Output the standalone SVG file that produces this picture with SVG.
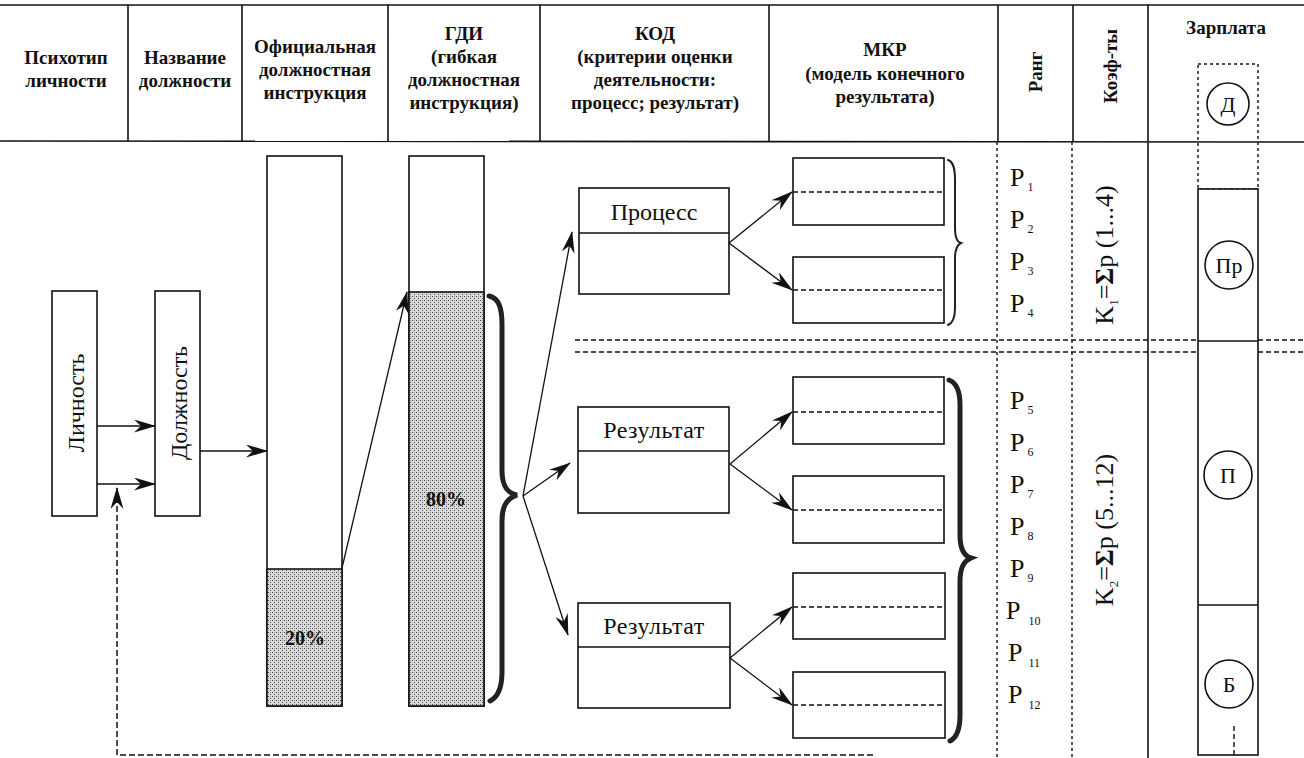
<svg xmlns="http://www.w3.org/2000/svg" width="1304" height="758" viewBox="0 0 1304 758">
<defs>
<style>
.hd{font-family:"Liberation Serif","Times New Roman",serif;font-weight:bold;font-size:19px;text-anchor:middle;fill:#111}
.lb{font-family:"Liberation Serif","Times New Roman",serif;font-size:24px;text-anchor:middle;fill:#111}
.pc{font-family:"Liberation Serif","Times New Roman",serif;font-weight:bold;font-size:20px;text-anchor:middle;fill:#111}
.rk{font-family:"Liberation Serif","Times New Roman",serif;font-size:26px;fill:#111}
.ci{font-family:"Liberation Serif","Times New Roman",serif;font-size:22px;text-anchor:middle;fill:#111}
.box{fill:#fff;stroke:#111;stroke-width:1.6}
.ln{stroke:#111;stroke-width:1.6;fill:none}
.dash{stroke:#111;stroke-width:1.4;stroke-dasharray:5 3;fill:none}
.dot{stroke:#111;stroke-width:1.4;stroke-dasharray:3 3;fill:none}
.arr{stroke:#111;stroke-width:1.3;fill:none;marker-end:url(#ah)}
.brace{fill:none;stroke:#222;stroke-linecap:round}
</style>
<marker id="ah" markerUnits="userSpaceOnUse" markerWidth="24" markerHeight="14" refX="21" refY="6.5" orient="auto">
<path d="M0,0 L22,6.5 L0,13 L7,6.5 z" fill="#111"/>
</marker>
<pattern id="dots" width="4" height="4" patternUnits="userSpaceOnUse">
<rect width="4" height="4" fill="#dadada"/>
<rect width="1" height="1" fill="#444"/>
<rect x="2" y="2" width="1" height="1" fill="#555"/>
<rect x="2" y="0" width="1" height="1" fill="#999"/>
</pattern>
</defs>
<rect width="1304" height="758" fill="#fff"/>

<g id="header">
<line class="ln" x1="0" y1="5" x2="1304" y2="5"/>
<line class="ln" x1="0" y1="141" x2="1304" y2="142"/>
<line class="ln" x1="128" y1="5" x2="128" y2="141"/>
<line class="ln" x1="242" y1="5" x2="242" y2="141"/>
<line class="ln" x1="388" y1="5" x2="388" y2="141"/>
<line class="ln" x1="540" y1="5" x2="540" y2="141"/>
<line class="ln" x1="769" y1="5" x2="769" y2="141"/>
<line class="ln" x1="998" y1="5" x2="998" y2="141"/>
<line class="ln" x1="1073" y1="5" x2="1073" y2="141"/>
<line class="ln" x1="1148" y1="5" x2="1148" y2="141"/>
<text class="hd" x="66" y="64">Психотип</text>
<text class="hd" x="66" y="87">личности</text>
<text class="hd" x="185" y="64">Название</text>
<text class="hd" x="185" y="87">должности</text>
<text class="hd" x="315" y="53">Официальная</text>
<text class="hd" x="315" y="76">должностная</text>
<text class="hd" x="315" y="99">инструкция</text>
<text class="hd" x="464" y="40">ГДИ</text>
<text class="hd" x="464" y="63">(гибкая</text>
<text class="hd" x="464" y="86">должностная</text>
<text class="hd" x="464" y="109">инструкция)</text>
<text class="hd" x="655" y="40">КОД</text>
<text class="hd" x="655" y="63">(критерии оценки</text>
<text class="hd" x="655" y="86">деятельности:</text>
<text class="hd" x="655" y="109">процесс; результат)</text>
<text class="hd" x="885" y="56">МКР</text>
<text class="hd" x="885" y="80">(модель конечного</text>
<text class="hd" x="885" y="103">результата)</text>
<text class="hd" transform="rotate(-90 1035 72)" x="1035" y="79">Ранг</text>
<text class="hd" transform="rotate(-90 1110 66)" x="1110" y="73">Коэф-ты</text>
<text class="hd" x="1226" y="34">Зарплата</text>
</g>

<g id="grid">
<line class="dot" x1="997" y1="142" x2="997" y2="758"/>
<line class="dot" x1="1072" y1="142" x2="1072" y2="758"/>
<line class="ln" x1="1148" y1="142" x2="1148" y2="758"/>
<line class="dash" x1="575" y1="340" x2="1198" y2="340"/>
<line class="dash" x1="1258" y1="340" x2="1304" y2="340"/>
<line class="dash" x1="575" y1="352" x2="1198" y2="352"/>
<line class="dash" x1="1258" y1="352" x2="1304" y2="352"/>
</g>

<g id="lichnost">
<rect class="box" x="52" y="291" width="45" height="225"/>
<text class="lb" font-size="25" transform="rotate(-90 75 403)" x="75" y="412">Личность</text>
</g>
<g id="dolzhnost">
<rect class="box" x="155" y="291" width="45" height="225"/>
<text class="lb" font-size="25" transform="rotate(-90 178 403)" x="178" y="412">Должность</text>
</g>

<g id="ofic">
<rect class="box" x="267" y="156" width="75" height="550"/>
<rect x="267" y="569" width="75" height="137" fill="url(#dots)" stroke="#111" stroke-width="1.6"/>
<text class="pc" x="305" y="645">20%</text>
</g>

<g id="gdi">
<rect class="box" x="409" y="156" width="75" height="550"/>
<rect x="409" y="292" width="75" height="414" fill="url(#dots)" stroke="#111" stroke-width="1.6"/>
<text class="pc" x="446" y="506">80%</text>
</g>

<g id="process">
<rect class="box" x="579" y="188" width="150" height="106"/>
<line class="ln" x1="579" y1="233" x2="729" y2="233"/>
<text class="lb" font-size="25" x="654" y="220">Процесс</text>
</g>
<g id="rez1">
<rect class="box" x="578" y="407" width="151" height="106"/>
<line class="ln" x1="578" y1="451" x2="729" y2="451"/>
<text class="lb" x="654" y="438" letter-spacing="0.5">Результат</text>
</g>
<g id="rez2">
<rect class="box" x="578" y="603" width="152" height="105"/>
<line class="ln" x1="578" y1="647" x2="730" y2="647"/>
<text class="lb" x="654" y="634" letter-spacing="0.5">Результат</text>
</g>

<g id="mkr">
<rect class="box" x="793" y="158" width="151" height="67"/>
<line class="dash" x1="793" y1="192" x2="944" y2="192"/>
<rect class="box" x="793" y="257" width="151" height="66"/>
<line class="dash" x1="793" y1="290" x2="944" y2="290"/>
<rect class="box" x="793" y="377" width="151" height="67"/>
<line class="dash" x1="793" y1="412" x2="944" y2="412"/>
<rect class="box" x="793" y="476" width="151" height="67"/>
<line class="dash" x1="793" y1="510" x2="944" y2="510"/>
<rect class="box" x="793" y="573" width="152" height="66"/>
<line class="dash" x1="793" y1="607" x2="945" y2="607"/>
<rect class="box" x="793" y="672" width="152" height="66"/>
<line class="dash" x1="793" y1="705" x2="945" y2="705"/>
</g>

<g id="braces">
<path class="brace" stroke-width="5" d="M489,296 C499,298 502,308 502,325 L502,470 C502,486 507,493 517,495 C507,498 502,506 502,520 L502,672 C502,688 498,697 490,701"/>
<path class="brace" stroke-width="2" d="M948,160 C954,162 955,170 955,180 L955,228 C955,238 957,242 961,243 C957,245 955,249 955,258 L955,308 C955,318 953,323 948,325"/>
<path class="brace" stroke-width="5" d="M949,380 C957,383 960,393 960,405 L960,535 C960,550 964,556 971,558 C964,561 960,567 960,582 L960,715 C960,730 956,738 950,741"/>
</g>

<g id="rank">
<text class="rk" x="1010" y="186">P<tspan font-size="12" dx="3" dy="5">1</tspan></text>
<text class="rk" x="1010" y="228">P<tspan font-size="12" dx="3" dy="5">2</tspan></text>
<text class="rk" x="1010" y="270">P<tspan font-size="12" dx="3" dy="5">3</tspan></text>
<text class="rk" x="1010" y="312">P<tspan font-size="12" dx="3" dy="5">4</tspan></text>
<text class="rk" x="1010" y="409">P<tspan font-size="12" dx="3" dy="5">5</tspan></text>
<text class="rk" x="1010" y="451">P<tspan font-size="12" dx="3" dy="5">6</tspan></text>
<text class="rk" x="1010" y="493">P<tspan font-size="12" dx="3" dy="5">7</tspan></text>
<text class="rk" x="1010" y="535">P<tspan font-size="12" dx="3" dy="5">8</tspan></text>
<text class="rk" x="1010" y="577">P<tspan font-size="12" dx="3" dy="5">9</tspan></text>
<text class="rk" x="1006" y="619">P<tspan font-size="12" dx="8" dy="6">10</tspan></text>
<text class="rk" x="1008" y="661">P<tspan font-size="12" dx="6" dy="6">11</tspan></text>
<text class="rk" x="1008" y="703">P<tspan font-size="12" dx="6" dy="6">12</tspan></text>
</g>

<g id="koef">
<text class="rk" font-size="25" text-anchor="middle" transform="rotate(-90 1104 255)" x="1104" y="264">K<tspan font-size="13" dy="5">1</tspan><tspan dy="-5">=</tspan><tspan font-weight="bold">Σ</tspan>p (1...4)</text>
<text class="rk" font-size="25" text-anchor="middle" transform="rotate(-90 1104 530)" x="1104" y="539">K<tspan font-size="13" dy="5">2</tspan><tspan dy="-5">=</tspan><tspan font-weight="bold">Σ</tspan>p (5...12)</text>
</g>

<g id="salary">
<rect x="1198" y="64" width="60" height="125" fill="none" class="dot"/>
<circle cx="1228" cy="104" r="21" class="box"/>
<text class="ci" x="1228" y="112">Д</text>
<rect class="box" x="1198" y="189" width="60" height="566"/>
<line class="ln" x1="1198" y1="341" x2="1258" y2="341"/>
<line class="ln" x1="1198" y1="605" x2="1258" y2="605"/>
<circle cx="1229" cy="265" r="24" class="box"/>
<text class="ci" x="1229" y="273">Пр</text>
<circle cx="1228" cy="475" r="24" class="box"/>
<text class="ci" x="1228" y="483">П</text>
<circle cx="1229" cy="684" r="24" class="box"/>
<text class="ci" x="1229" y="692">Б</text>
<line class="dash" x1="1234" y1="726" x2="1234" y2="755"/>
</g>

<g id="connectors">
<line class="arr" x1="97" y1="426" x2="155" y2="426"/>
<line class="arr" x1="97" y1="484" x2="155" y2="484"/>
<line class="arr" x1="200" y1="451" x2="267" y2="451"/>
<line class="arr" x1="342" y1="568" x2="407" y2="292"/>
<line class="arr" x1="523" y1="496" x2="572" y2="232"/>
<line class="arr" x1="523" y1="496" x2="570" y2="463"/>
<line class="arr" x1="523" y1="496" x2="568" y2="635"/>
<line class="arr" x1="729" y1="243" x2="792" y2="192"/>
<line class="arr" x1="729" y1="243" x2="792" y2="290"/>
<line class="arr" x1="730" y1="464" x2="792" y2="412"/>
<line class="arr" x1="730" y1="464" x2="792" y2="510"/>
<line class="arr" x1="730" y1="658" x2="792" y2="607"/>
<line class="arr" x1="730" y1="658" x2="792" y2="705"/>
<path d="M873,755 L117,755 L117,488" stroke="#111" stroke-width="1.5" stroke-dasharray="6 3" fill="none" marker-end="url(#ah)"/>
</g>
</svg>
